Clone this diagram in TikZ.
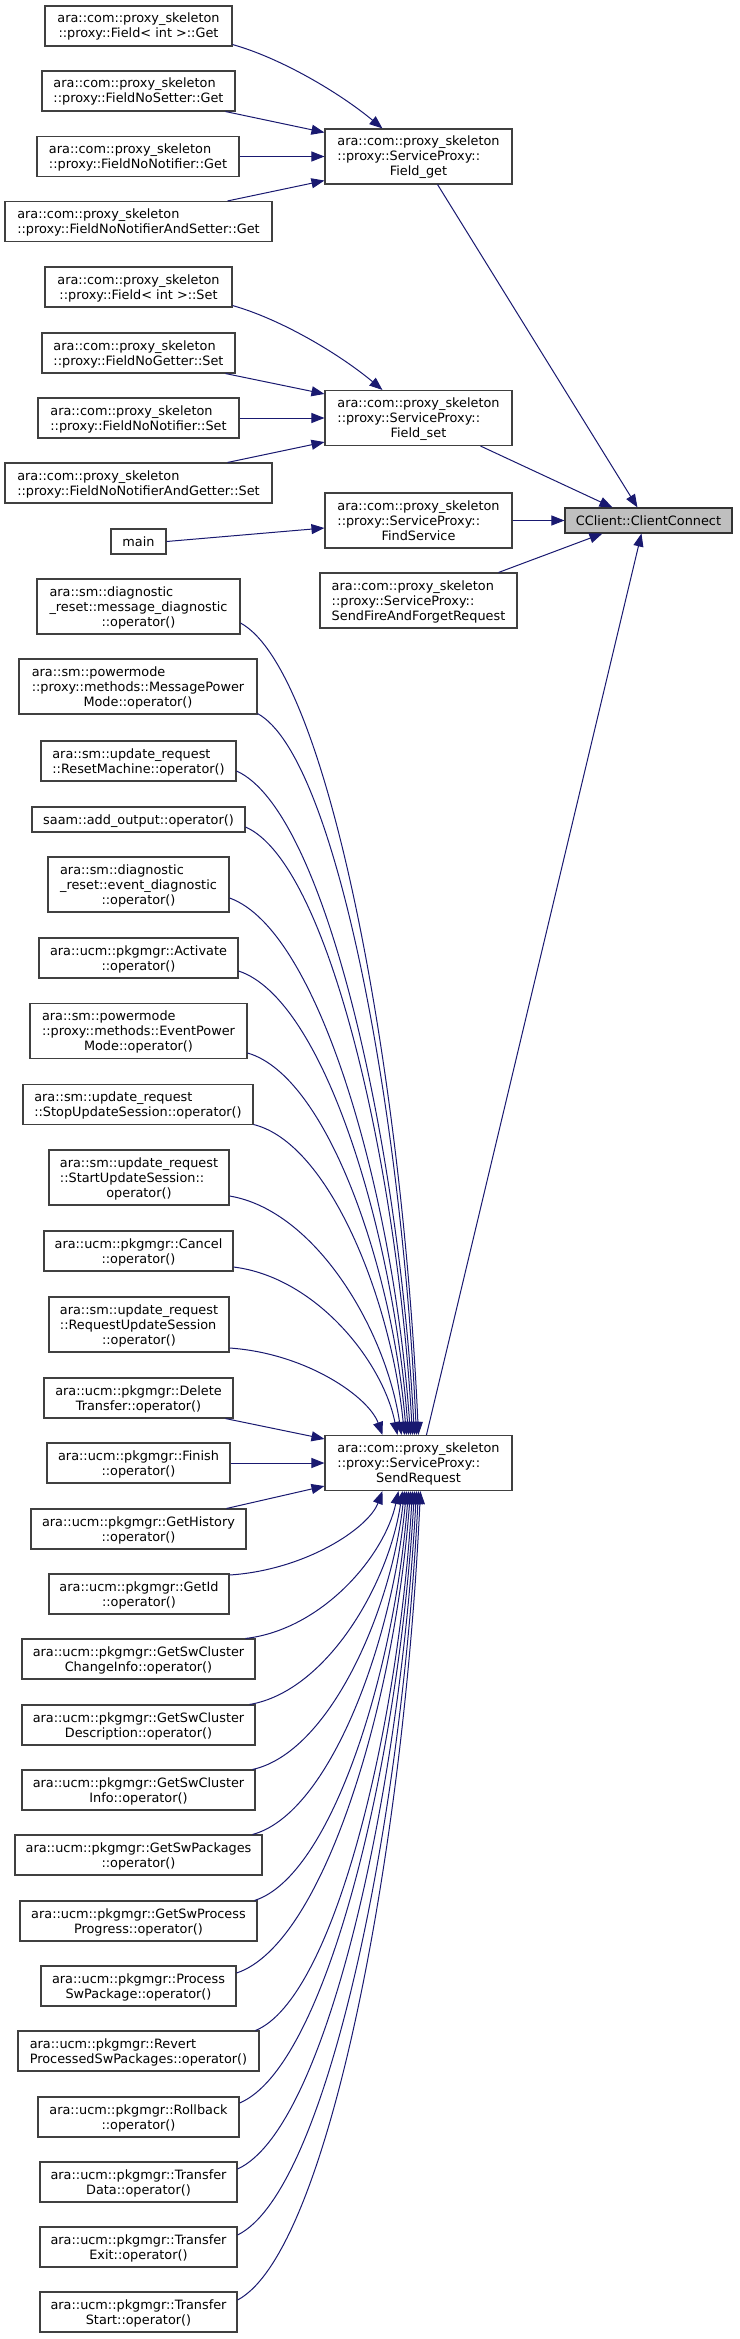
\documentclass[tikz,border=0pt]{standalone}
\usepackage{fontspec}
\setmainfont{DejaVu Sans}
\usetikzlibrary{arrows.meta,calc}
\definecolor{edgecol}{HTML}{191970}
\definecolor{bordercol}{HTML}{404040}
\definecolor{rootfill}{HTML}{BFBFBF}
\newcommand{\lbl}[2]{\raisebox{-1.5pt}[\height][\depth]{\begin{tabular}{@{}l@{}}#1\\\multicolumn{1}{@{}c@{}}{#2}\end{tabular}}}
\newcommand{\onel}[1]{\raisebox{-1.5pt}[\height][\depth]{\begin{tabular}{@{}c@{}}#1\end{tabular}}}
\newcommand{\curvedge}[6]{\draw[edge] let \p1=(#1), \p2=(#2) in (\p1) .. controls ({\x1+#3*(\x2-\x1)},{\y1+#4*(\y2-\y1)}) and ({\x1+#5*(\x2-\x1)},{\y1+#6*(\y2-\y1)}) .. (\p2);}
\newcommand{\shoulder}[2]{\curvedge{#1}{#2}{0.5}{0.06}{0.91}{0.56}}
\newcommand{\ps}{ara::com::proxy\_skeleton}
\begin{document}
\begin{tikzpicture}[x=1pt,y=-1pt,
  box/.style={draw=bordercol, line width=1.1pt, fill=white, rectangle, inner sep=0pt, font=\fontsize{12.85}{15}\selectfont},
  hone/.style={minimum height=25pt},
  htwo/.style={minimum height=40pt},
  hthree/.style={minimum height=55pt},
  root/.style={fill=rootfill, draw=black!80},
  edge/.style={draw=edgecol, line width=1pt, -{Triangle[length=13pt,width=10pt]}}]
\path[use as bounding box, fill=white] (0,0) rectangle (739,2339);

% upper part
\node[box,htwo,minimum width=187pt] (fig) at (138.5,26) {\lbl{\ps}{::proxy::Field< int >::Get}};
\node[box,htwo,minimum width=193pt] (fnsg) at (138.5,91) {\lbl{\ps}{::proxy::FieldNoSetter::Get}};
\node[box,htwo,minimum width=202pt] (fnng) at (138,156.5) {\lbl{\ps}{::proxy::FieldNoNotifier::Get}};
\node[box,htwo,minimum width=267pt] (fnnasg) at (138.5,221.5) {\lbl{\ps}{::proxy::FieldNoNotifierAndSetter::Get}};
\node[box,hthree,minimum width=187pt] (fget) at (418.5,156.5) {\lbl{\ps\\::proxy::ServiceProxy::}{Field\_get}};

\node[box,htwo,minimum width=187pt] (fis) at (138.5,287) {\lbl{\ps}{::proxy::Field< int >::Set}};
\node[box,htwo,minimum width=193pt] (fngs) at (138.5,353) {\lbl{\ps}{::proxy::FieldNoGetter::Set}};
\node[box,htwo,minimum width=201pt] (fnns) at (138.5,418) {\lbl{\ps}{::proxy::FieldNoNotifier::Set}};
\node[box,htwo,minimum width=267pt] (fnnags) at (138.5,483) {\lbl{\ps}{::proxy::FieldNoNotifierAndGetter::Set}};
\node[box,hthree,minimum width=187pt] (fset) at (418.5,418) {\lbl{\ps\\::proxy::ServiceProxy::}{Field\_set}};

\node[box,hone,minimum width=55pt] (mainn) at (138.5,541.5) {\onel{main}};
\node[box,hthree,minimum width=187pt] (fs) at (418.5,520.5) {\lbl{\ps\\::proxy::ServiceProxy::}{FindService}};
\node[box,hthree,minimum width=197pt] (sff) at (418.5,600.5) {\lbl{\ps\\::proxy::ServiceProxy::}{SendFireAndForgetRequest}};
\node[box,root,hone,minimum width=167pt] (cc) at (648.5,520.5) {\onel{CClient::ClientConnect}};

% lower part
\node[box,hthree,minimum width=203pt] (md) at (138.5,606.5) {\lbl{ara::sm::diagnostic\\\_reset::message\_diagnostic}{::operator()}};
\node[box,hthree,minimum width=238pt] (mpm) at (138,686.5) {\lbl{ara::sm::powermode\\::proxy::methods::MessagePower}{Mode::operator()}};
\node[box,htwo,minimum width=195pt] (rm) at (138.5,761) {\lbl{ara::sm::update\_request}{::ResetMachine::operator()}};
\node[box,hone,minimum width=213pt] (saam) at (138.5,819.5) {\onel{saam::add\_output::operator()}};
\node[box,hthree,minimum width=181pt] (ed) at (138.5,884.5) {\lbl{ara::sm::diagnostic\\\_reset::event\_diagnostic}{::operator()}};
\node[box,htwo,minimum width=199pt] (act) at (138.5,958) {\lbl{ara::ucm::pkgmgr::Activate}{::operator()}};
\node[box,hthree,minimum width=217pt] (epm) at (138.5,1031) {\lbl{ara::sm::powermode\\::proxy::methods::EventPower}{Mode::operator()}};
\node[box,htwo,minimum width=230pt] (stop) at (138,1104.5) {\lbl{ara::sm::update\_request}{::StopUpdateSession::operator()}};
\node[box,hthree,minimum width=180pt] (strt) at (139,1177.5) {\lbl{ara::sm::update\_request\\::StartUpdateSession::}{operator()}};
\node[box,htwo,minimum width=189pt] (cancel) at (138.5,1251) {\lbl{ara::ucm::pkgmgr::Cancel}{::operator()}};
\node[box,hthree,minimum width=180pt] (rus) at (139,1324.5) {\lbl{ara::sm::update\_request\\::RequestUpdateSession}{::operator()}};
\node[box,htwo,minimum width=189pt] (del) at (138.5,1398) {\lbl{ara::ucm::pkgmgr::Delete}{Transfer::operator()}};
\node[box,htwo,minimum width=183pt] (fin) at (138.5,1463) {\lbl{ara::ucm::pkgmgr::Finish}{::operator()}};
\node[box,htwo,minimum width=215pt] (gh) at (138.5,1529) {\lbl{ara::ucm::pkgmgr::GetHistory}{::operator()}};
\node[box,htwo,minimum width=180pt] (gid) at (139,1594) {\lbl{ara::ucm::pkgmgr::GetId}{::operator()}};
\node[box,htwo,minimum width=233pt] (ci) at (138.5,1659) {\lbl{ara::ucm::pkgmgr::GetSwCluster}{ChangeInfo::operator()}};
\node[box,htwo,minimum width=233pt] (desc) at (138.5,1725) {\lbl{ara::ucm::pkgmgr::GetSwCluster}{Description::operator()}};
\node[box,htwo,minimum width=233pt] (info) at (138.5,1790) {\lbl{ara::ucm::pkgmgr::GetSwCluster}{Info::operator()}};
\node[box,htwo,minimum width=247pt] (pkgs) at (138.5,1855) {\lbl{ara::ucm::pkgmgr::GetSwPackages}{::operator()}};
\node[box,htwo,minimum width=237pt] (prog) at (138.5,1921) {\lbl{ara::ucm::pkgmgr::GetSwProcess}{Progress::operator()}};
\node[box,htwo,minimum width=195pt] (proc) at (138.5,1986) {\lbl{ara::ucm::pkgmgr::Process}{SwPackage::operator()}};
\node[box,htwo,minimum width=241pt] (rev) at (138.5,2051) {\lbl{ara::ucm::pkgmgr::Revert}{ProcessedSwPackages::operator()}};
\node[box,htwo,minimum width=201pt] (rb) at (138.5,2117) {\lbl{ara::ucm::pkgmgr::Rollback}{::operator()}};
\node[box,htwo,minimum width=197pt] (td) at (138.5,2182) {\lbl{ara::ucm::pkgmgr::Transfer}{Data::operator()}};
\node[box,htwo,minimum width=197pt] (te) at (138.5,2247) {\lbl{ara::ucm::pkgmgr::Transfer}{Exit::operator()}};
\node[box,htwo,minimum width=197pt] (ts) at (138.5,2312) {\lbl{ara::ucm::pkgmgr::Transfer}{Start::operator()}};
\node[box,hthree,minimum width=187pt] (sr) at (418.5,1463) {\lbl{\ps\\::proxy::ServiceProxy::}{SendRequest}};

% edges: upper part
\curvedge{[yshift=2pt]fig.south east}{[xshift=58pt]fget.north west}{0.32}{0.16}{0.71}{0.57}
\draw[edge] ([xshift=-10pt]fnsg.south east) -- ([yshift=-4pt]fget.north west);
\draw[edge] (fnng.east) -- (fget.west);
\draw[edge] ([xshift=-45pt]fnnasg.north east) -- ([yshift=4pt]fget.south west);
\curvedge{[yshift=2pt]fis.south east}{[xshift=58pt]fset.north west}{0.32}{0.16}{0.71}{0.57}
\draw[edge] ([xshift=-10pt]fngs.south east) -- ([yshift=-4pt]fset.north west);
\draw[edge] (fnns.east) -- (fset.west);
\draw[edge] ([xshift=-45pt]fnnags.north east) -- ([yshift=4pt]fset.south west);
\draw[edge] (mainn.east) -- ([yshift=-7.5pt]fs.west);
\draw[edge] ([xshift=-75pt]fget.south east) -- ([xshift=73pt]cc.north west);
\draw[edge] ([xshift=-32pt]fset.south east) -- ([xshift=48pt]cc.north west);
\draw[edge] (fs.east) -- (cc.west);
\draw[edge] ([xshift=-19pt]sff.north east) -- ([xshift=38pt]cc.south west);
\draw[edge] ([xshift=102pt]sr.north west) -- ([xshift=77pt]cc.south west);

% edges into SendRequest, top
\shoulder{[yshift=-16.5pt]md.east}{[xshift=94pt]sr.north west}
\shoulder{[yshift=1pt]mpm.south east}{[xshift=92pt]sr.north west}
\shoulder{[yshift=-10pt]rm.east}{[xshift=90pt]sr.north west}
\shoulder{[yshift=-7.5pt]saam.east}{[xshift=88pt]sr.north west}
\shoulder{[yshift=-13.5pt]ed.east}{[xshift=86pt]sr.north west}
\shoulder{[yshift=-13pt]act.east}{[xshift=84pt]sr.north west}
\shoulder{[yshift=-22pt]epm.east}{[xshift=82pt]sr.north west}
\shoulder{[yshift=-20pt]stop.east}{[xshift=80pt]sr.north west}
\shoulder{[yshift=-18.5pt]strt.east}{[xshift=77pt]sr.north west}
\shoulder{[yshift=-16pt]cancel.east}{[xshift=73pt]sr.north west}
\shoulder{[yshift=-23.5pt]rus.east}{[xshift=58pt]sr.north west}
% left
\draw[edge] ([xshift=-8pt]del.south east) -- ([yshift=-4pt]sr.north west);
\draw[edge] (fin.east) -- (sr.west);
\draw[edge] ([xshift=-20pt]gh.north east) -- ([yshift=5pt]sr.south west);
% bottom
\shoulder{[yshift=19pt]gid.east}{[xshift=58pt]sr.south west}
\shoulder{[xshift=-10pt]ci.north east}{[xshift=74pt]sr.south west}
\shoulder{[xshift=-6pt]desc.north east}{[xshift=78pt]sr.south west}
\shoulder{[xshift=-3pt]info.north east}{[xshift=80pt]sr.south west}
\shoulder{[xshift=-10pt]pkgs.north east}{[xshift=82pt]sr.south west}
\shoulder{[xshift=-3pt]prog.north east}{[xshift=84pt]sr.south west}
\shoulder{[yshift=13pt]proc.east}{[xshift=86pt]sr.south west}
\shoulder{[xshift=-4pt]rev.north east}{[xshift=88pt]sr.south west}
\shoulder{[yshift=14pt]rb.east}{[xshift=90pt]sr.south west}
\shoulder{[yshift=13pt]td.east}{[xshift=92pt]sr.south west}
\shoulder{[yshift=12pt]te.east}{[xshift=94pt]sr.south west}
\shoulder{[yshift=12pt]ts.east}{[xshift=96pt]sr.south west}
\end{tikzpicture}
\end{document}
